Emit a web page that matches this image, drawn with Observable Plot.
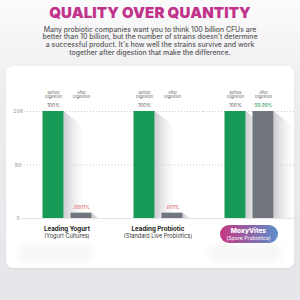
<!DOCTYPE html>
<html><head><meta charset="utf-8">
<script src="https://cdn.jsdelivr.net/npm/d3@7"></script>
<script src="https://cdn.jsdelivr.net/npm/@observablehq/plot@0.6"></script>
<style>
html,body{margin:0;padding:0;}
body{width:300px;height:300px;overflow:hidden;position:relative;font-family:Inter,"Open Sans",sans-serif;
 background:linear-gradient(#fbfbfc 0%,#eeeef1 30%,#e6e6ea 100%);}
#title{position:absolute;left:0;top:4.5px;width:300px;text-align:center;font:900 15px/1 Inter,sans-serif;color:#c1338b;letter-spacing:0.1px;}
#sub{position:absolute;left:0;top:25.5px;width:300px;text-align:center;font:500 6.9px/7.7px Inter,sans-serif;color:#5a5a5a;}
#card{position:absolute;left:6px;top:66px;width:288px;height:202px;background:#fff;border-radius:7px;box-shadow:0 1px 3px rgba(0,0,0,0.05);}
#chart{position:absolute;left:0;top:66px;}
#pill{position:absolute;width:58px;height:18px;border-radius:9px;color:#fff;text-align:center;
 background:linear-gradient(90deg,#c73783,#5b8fca);font-family:Inter,sans-serif;}
#pill b{display:block;font-weight:800;font-size:6.6px;line-height:7px;margin-top:2.5px;}
#pill span{display:block;font-size:5.2px;line-height:6px;}
.blob{position:absolute;height:18px;border-radius:10px;background:rgba(0,0,0,0.035);filter:blur(4px);}
</style></head>
<body>
<svg width="0" height="0" style="position:absolute">
 <defs>
  <linearGradient id="sh" x1="0" x2="1" y1="0" y2="0">
   <stop offset="0" stop-color="#b9b9c0" stop-opacity="0.75"/>
   <stop offset="1" stop-color="#e8e8ec" stop-opacity="0"/>
  </linearGradient>
 </defs>
</svg>
<div id="title">QUALITY OVER QUANTITY</div>
<div id="sub">Many probiotic companies want you to think 100 billion CFUs are<br>better than 10 billion, but the number of strains doesn't determine<br>a successful product. It's how well the strains survive and work<br>together after digestion that make the difference.</div>
<div id="card"></div>
<div class="blob" style="left:18px;top:244px;width:75px;"></div>
<div class="blob" style="left:208px;top:244px;width:75px;"></div>
<div id="chart"></div>
<script>
const categories = ["Leading Yogurt", "Leading Probiotic", "MoxyVites"];
const subLabels = ["(Yogurt Cultures)", "(Standard Live Probiotics)", "(Spore Probiotics)"];
const stages = ["Before Digestion", "After Digestion"];
const beforeValues = [100, 100, 100];
const afterValues = [5, 5, 99.99];
const beforeLabels = ["100%", "100%", "100%"];
const afterLabels = [".0001%", ".001%", "99.99%"];
const yTicks = [0, 50, 100];

const rows = [];
categories.forEach((c, i) => {
  rows.push({cat: c, stage: stages[0], value: beforeValues[i], label: beforeLabels[i], idx: i});
  rows.push({cat: c, stage: stages[1], value: afterValues[i], label: afterLabels[i], idx: i});
});
const cats = categories.map((c, i) => ({cat: c, sub: subLabels[i], idx: i}));
const headers = [];
categories.forEach(c => stages.forEach(s => headers.push({cat: c, stage: s, text: s.replace(" ", "\n")})));

const green = "#179a56", gray = "#71767f";
function skew(index, scales, values, dims, ctx, next) {
  const g = next(index, scales, values, dims, ctx);
  g.querySelectorAll("rect").forEach(r => {
    const x = +r.getAttribute("x"), y = +r.getAttribute("y");
    r.setAttribute("transform", `translate(${x},${y}) skewY(38) translate(${-x},${-y})`);
  });
  return g;
}

const chart = Plot.plot({
  width: 300, height: 185,
  marginTop: 45, marginBottom: 33, marginLeft: 20.5, marginRight: 6.5,
  style: {fontFamily: "Inter, sans-serif", background: "transparent", overflow: "visible"},
  fx: {domain: categories, padding: 0, axis: null},
  x: {domain: stages, paddingInner: 0.25, paddingOuter: 0.75, axis: null},
  y: {domain: [0, 100], axis: null},
  marks: [
    Plot.gridY([50, 100], {stroke: "#b5b5b5", strokeOpacity: 1, strokeDasharray: "1,2", strokeWidth: 0.7}),
    Plot.ruleY([0], {stroke: "#e4e4e6", strokeWidth: 1}),
    Plot.axisY(yTicks, {tickSize: 0, tickPadding: 3.5, textAnchor: "middle", fontSize: 5, fill: "#8a8a8a", label: null}),
    Plot.barY(rows, {fx: "cat", x: "stage", y: "value", dx: 21, fill: "url(#sh)", clip: true, render: skew}),
    Plot.barY(rows, {fx: "cat", x: "stage", y: "value", fill: d => d.stage === stages[0] ? green : gray}),
    Plot.text(headers, {fx: "cat", x: "stage", y: 100, text: "text", dy: -16.5, fontSize: 3.8, lineHeight: 1, fill: "#666"}),
    Plot.text(rows, {fx: "cat", x: "stage", y: "value", text: "label", dy: -6, fontSize: 4.8,
      fill: d => d.stage === stages[0] ? "#555" : (d.idx === 2 ? "#2a9a5c" : "#d6463c")}),
    Plot.text(cats.filter(d => d.idx < 2), {fx: "cat", frameAnchor: "bottom", text: "cat", dy: 12, fontSize: 6.2, fontWeight: 700, fill: "#222"}),
    Plot.text(cats.filter(d => d.idx < 2), {fx: "cat", frameAnchor: "bottom", text: "sub", dy: 19, fontSize: 5.6, fill: "#333"})
  ]
});
document.getElementById("chart").appendChild(chart);

const fx = chart.scale("fx");
const center = fx.apply(categories[2]) + (fx.bandwidth || 0) / 2;
const pill = document.createElement("div");
pill.id = "pill";
pill.style.left = (center - 29) + "px";
pill.style.top = "225px";
pill.innerHTML = `<b>${categories[2]}</b><span>${subLabels[2]}</span>`;
document.body.appendChild(pill);
</script>
</body></html>
